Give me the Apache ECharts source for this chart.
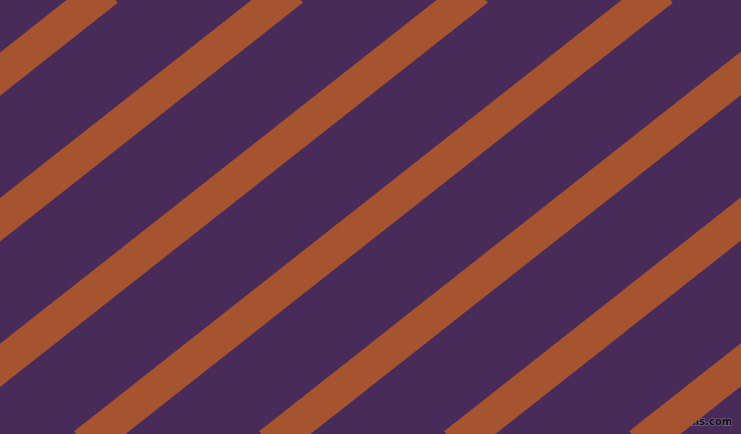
<!DOCTYPE html>
<html>
<head>
<meta charset="utf-8">
<script src="https://cdn.jsdelivr.net/npm/echarts@6/dist/echarts.min.js"></script>
<style>
html, body { margin: 0; padding: 0; background: #482b58; }
#main { width: 741px; height: 434px; }
</style>
</head>
<body>
<div id="main"></div>
<script>
// 条纹中心线：顶部 (y=0) 与底部 (y=434) 的 x 位置
var stripeTopX = [94, 279, 464, 649, 834, 1019, 1204];
var stripeBottomX = [-457, -272, -87, 98, 283, 468, 653];
var canvasW = 741;
var canvasH = 434;

// 每条条纹一个折线系列
var series = [];
for (var i = 0; i < stripeTopX.length; i++) {
    series.push({
        type: 'line',
        data: [[stripeTopX[i], 0], [stripeBottomX[i], canvasH]],
        symbol: 'none',
        clip: true,
        silent: true,
        lineStyle: { color: '#a65430', width: 34, cap: 'square' }
    });
}

var myChart = echarts.init(document.getElementById('main'));
var option = {
    animation: false,
    backgroundColor: '#482b58',
    grid: { left: 0, right: 0, top: 0, bottom: 0 },
    xAxis: { type: 'value', min: 0, max: canvasW, show: false },
    yAxis: { type: 'value', min: 0, max: canvasH, inverse: true, show: false },
    series: series,
    graphic: [{
        type: 'text',
        right: 8,
        bottom: 6,
        style: {
            text: 'pixlis.com',
            font: 'bold 10px "DejaVu Sans"',
            fill: '#0e0a12',
            stroke: 'rgba(150,130,170,0.6)',
            lineWidth: 1.5
        }
    }]
};
myChart.setOption(option);
</script>
</body>
</html>
